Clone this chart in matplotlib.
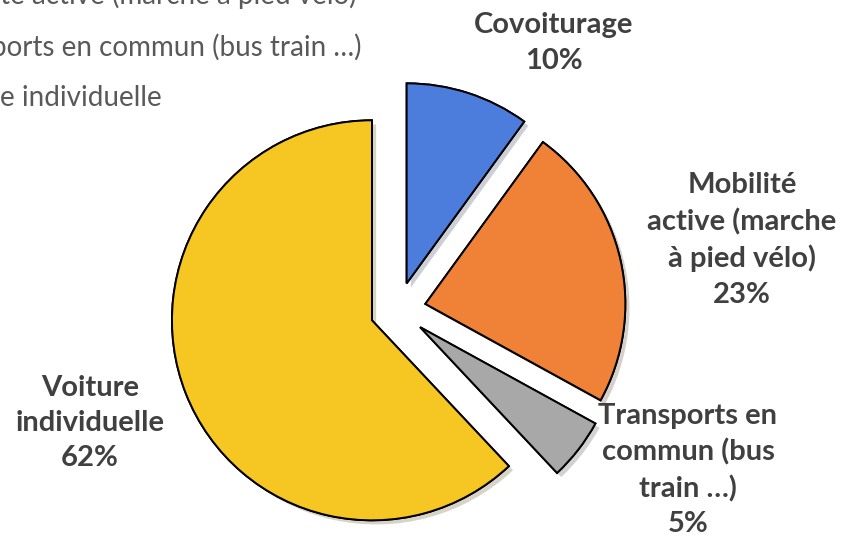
import matplotlib
matplotlib.use("Agg")
import matplotlib.pyplot as plt
import matplotlib.patheffects as pe

categories = ["Covoiturage", "Mobilité active (marche à pied vélo)",
              "Transports en commun (bus train …)", "Voiture individuelle"]
values = [10, 23, 5, 62]
labels = ["Covoiturage", "Mobilité\nactive (marche\nà pied vélo)",
          "Transports en\ncommun (bus\ntrain …)", "Voiture\nindividuelle"]
colors = ["#4D7DDC", "#F08238", "#A8A8A8", "#F6C623"]

plt.rcParams['font.family'] = ['Lato', 'DejaVu Sans']

W, H = 843, 541
fig = plt.figure(figsize=(W / 100, H / 100), dpi=100)
ax = fig.add_axes([0, 0, 1, 1])

def Y(y):
    return H - y

# explode is in data units here (1 unit = 1 px)
wedges, _ = ax.pie(values, colors=colors, startangle=90, counterclock=False,
                   explode=[28] * 4, center=(398, Y(310)), radius=200,
                   wedgeprops=dict(edgecolor='black', linewidth=1.4))
for w in wedges:
    w.set_path_effects([pe.withSimplePatchShadow(offset=(3, -3), alpha=0.22),
                        pe.Normal()])

ax.set_xlim(0, W)
ax.set_ylim(0, H)
ax.set_aspect('equal')
ax.axis('off')

# data labels
label_pos = [(554, 43), (742, 240), (688, 470), (90, 423)]
for lab, v, (x, y) in zip(labels, values, label_pos):
    ax.text(x, Y(y), f"{lab}\n{v}%", ha='center', va='center',
            fontsize=21, fontweight='bold', color='#404040', linespacing=1.43)

# legend (partly outside the picture, as in the reference)
leg = ax.legend(wedges, categories, loc='upper left', frameon=False,
                bbox_to_anchor=(-120, Y(-70)), bbox_transform=ax.transData,
                fontsize=20, labelcolor='#595959', labelspacing=0.86,
                handlelength=0.7, handleheight=0.7)

# shift legend so that its third entry ends at x=362, centred on y=47
fig.canvas.draw()
bb = leg.get_texts()[2].get_window_extent()
dx = 362 - bb.x1
dy = Y(47) - (bb.y0 + bb.y1) / 2
leg.set_bbox_to_anchor((-120 + dx, Y(-70) + dy), transform=ax.transData)

fig.savefig("out.png", dpi=100)
